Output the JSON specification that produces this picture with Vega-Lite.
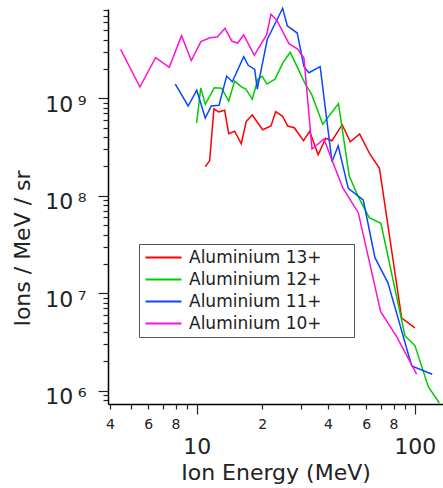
{
  "$schema": "https://vega.github.io/schema/vega-lite/v6.json",
  "autosize": "none",
  "width": 335,
  "height": 395,
  "padding": {"left": 108, "top": 9, "right": 0, "bottom": 84},
  "background": "white",
  "config": {
    "view": {"stroke": null},
    "font": "DejaVu Sans",
    "axis": {"grid": false, "domainColor": "#000", "domainWidth": 1.5, "tickColor": "#222", "tickWidth": 1.2, "labelColor": "#222", "titleColor": "#222", "labelFont": "DejaVu Sans", "titleFont": "DejaVu Sans", "titleFontWeight": "normal"}
  },
  "data": {
    "values": [
      {"ion": "Aluminium 13+", "E": 10.95, "N": 1.99e8},
      {"ion": "Aluminium 13+", "E": 11.47, "N": 2.29e8},
      {"ion": "Aluminium 13+", "E": 12.0, "N": 7.8e8},
      {"ion": "Aluminium 13+", "E": 12.62, "N": 7.24e8},
      {"ion": "Aluminium 13+", "E": 13.44, "N": 7.53e8},
      {"ion": "Aluminium 13+", "E": 14.03, "N": 4.33e8},
      {"ion": "Aluminium 13+", "E": 14.94, "N": 4.59e8},
      {"ion": "Aluminium 13+", "E": 16.02, "N": 3.42e8},
      {"ion": "Aluminium 13+", "E": 16.89, "N": 5.81e8},
      {"ion": "Aluminium 13+", "E": 17.99, "N": 6.74e8},
      {"ion": "Aluminium 13+", "E": 20.08, "N": 4.76e8},
      {"ion": "Aluminium 13+", "E": 21.92, "N": 5.2e8},
      {"ion": "Aluminium 13+", "E": 23.04, "N": 7.29e8},
      {"ion": "Aluminium 13+", "E": 24.8, "N": 6.54e8},
      {"ion": "Aluminium 13+", "E": 26.15, "N": 5.2e8},
      {"ion": "Aluminium 13+", "E": 28.03, "N": 4.99e8},
      {"ion": "Aluminium 13+", "E": 30.9, "N": 3.67e8},
      {"ion": "Aluminium 13+", "E": 32.98, "N": 4.57e8},
      {"ion": "Aluminium 13+", "E": 36.09, "N": 2.63e8},
      {"ion": "Aluminium 13+", "E": 39.06, "N": 3.89e8},
      {"ion": "Aluminium 13+", "E": 41.75, "N": 3.67e8},
      {"ion": "Aluminium 13+", "E": 46.5, "N": 5.36e8},
      {"ion": "Aluminium 13+", "E": 50.65, "N": 3.58e8},
      {"ion": "Aluminium 13+", "E": 55.93, "N": 4.3e8},
      {"ion": "Aluminium 13+", "E": 62.17, "N": 2.7e8},
      {"ion": "Aluminium 13+", "E": 68.94, "N": 1.91e8},
      {"ion": "Aluminium 13+", "E": 87.2, "N": 5.58e6},
      {"ion": "Aluminium 13+", "E": 100.3, "N": 4.41e6},

      {"ion": "Aluminium 12+", "E": 10.0, "N": 5.58e8},
      {"ion": "Aluminium 12+", "E": 10.44, "N": 1.28e9},
      {"ion": "Aluminium 12+", "E": 10.95, "N": 8.68e8},
      {"ion": "Aluminium 12+", "E": 12.04, "N": 1.28e9},
      {"ion": "Aluminium 12+", "E": 13.02, "N": 1.27e9},
      {"ion": "Aluminium 12+", "E": 14.03, "N": 9.38e8},
      {"ion": "Aluminium 12+", "E": 14.94, "N": 1.5e9},
      {"ion": "Aluminium 12+", "E": 16.09, "N": 1.3e9},
      {"ion": "Aluminium 12+", "E": 16.79, "N": 1.25e9},
      {"ion": "Aluminium 12+", "E": 17.99, "N": 9.77e8},
      {"ion": "Aluminium 12+", "E": 19.1, "N": 1.58e9},
      {"ion": "Aluminium 12+", "E": 19.99, "N": 1.68e9},
      {"ion": "Aluminium 12+", "E": 21.01, "N": 1.4e9},
      {"ion": "Aluminium 12+", "E": 22.87, "N": 1.57e9},
      {"ion": "Aluminium 12+", "E": 24.88, "N": 2.32e9},
      {"ion": "Aluminium 12+", "E": 26.88, "N": 2.96e9},
      {"ion": "Aluminium 12+", "E": 29.47, "N": 1.92e9},
      {"ion": "Aluminium 12+", "E": 31.4, "N": 1.42e9},
      {"ion": "Aluminium 12+", "E": 33.73, "N": 1.09e9},
      {"ion": "Aluminium 12+", "E": 37.88, "N": 5.43e8},
      {"ion": "Aluminium 12+", "E": 44.72, "N": 8.84e8},
      {"ion": "Aluminium 12+", "E": 50.1, "N": 1.59e8},
      {"ion": "Aluminium 12+", "E": 55.13, "N": 9.79e7},
      {"ion": "Aluminium 12+", "E": 61.9, "N": 5.96e7},
      {"ion": "Aluminium 12+", "E": 70.03, "N": 5.22e7},
      {"ion": "Aluminium 12+", "E": 90.3, "N": 3.65e6},
      {"ion": "Aluminium 12+", "E": 100.3, "N": 2.91e6},
      {"ion": "Aluminium 12+", "E": 115.5, "N": 1.1e6},
      {"ion": "Aluminium 12+", "E": 129.7, "N": 7.5e5},

      {"ion": "Aluminium 11+", "E": 7.98, "N": 1.4e9},
      {"ion": "Aluminium 11+", "E": 9.14, "N": 8.34e8},
      {"ion": "Aluminium 11+", "E": 10.01, "N": 1.21e9},
      {"ion": "Aluminium 11+", "E": 10.95, "N": 6.28e8},
      {"ion": "Aluminium 11+", "E": 11.67, "N": 8.34e8},
      {"ion": "Aluminium 11+", "E": 12.66, "N": 8.48e8},
      {"ion": "Aluminium 11+", "E": 13.73, "N": 1.69e9},
      {"ion": "Aluminium 11+", "E": 14.57, "N": 1.48e9},
      {"ion": "Aluminium 11+", "E": 16.43, "N": 2.67e9},
      {"ion": "Aluminium 11+", "E": 17.25, "N": 2.18e9},
      {"ion": "Aluminium 11+", "E": 18.46, "N": 1.98e9},
      {"ion": "Aluminium 11+", "E": 18.97, "N": 1.24e9},
      {"ion": "Aluminium 11+", "E": 21.09, "N": 4.03e9},
      {"ion": "Aluminium 11+", "E": 22.46, "N": 5.35e9},
      {"ion": "Aluminium 11+", "E": 24.8, "N": 8.38e9},
      {"ion": "Aluminium 11+", "E": 26.04, "N": 5.55e9},
      {"ion": "Aluminium 11+", "E": 28.94, "N": 4.67e9},
      {"ion": "Aluminium 11+", "E": 31.06, "N": 2.11e9},
      {"ion": "Aluminium 11+", "E": 32.74, "N": 1.83e9},
      {"ion": "Aluminium 11+", "E": 36.86, "N": 2.11e9},
      {"ion": "Aluminium 11+", "E": 41.75, "N": 2.24e8},
      {"ion": "Aluminium 11+", "E": 44.58, "N": 3.26e8},
      {"ion": "Aluminium 11+", "E": 49.6, "N": 1.19e8},
      {"ion": "Aluminium 11+", "E": 58.1, "N": 9.06e7},
      {"ion": "Aluminium 11+", "E": 65.75, "N": 2.32e7},
      {"ion": "Aluminium 11+", "E": 75.43, "N": 1.28e7},
      {"ion": "Aluminium 11+", "E": 96.9, "N": 1.8e6},
      {"ion": "Aluminium 11+", "E": 120.4, "N": 1.48e6},

      {"ion": "Aluminium 10+", "E": 4.48, "N": 3.18e9},
      {"ion": "Aluminium 10+", "E": 5.49, "N": 1.306e9},
      {"ion": "Aluminium 10+", "E": 6.48, "N": 2.61e9},
      {"ion": "Aluminium 10+", "E": 7.49, "N": 2.08e9},
      {"ion": "Aluminium 10+", "E": 8.52, "N": 4.39e9},
      {"ion": "Aluminium 10+", "E": 9.45, "N": 2.44e9},
      {"ion": "Aluminium 10+", "E": 10.46, "N": 3.82e9},
      {"ion": "Aluminium 10+", "E": 11.51, "N": 4.18e9},
      {"ion": "Aluminium 10+", "E": 12.43, "N": 4.25e9},
      {"ion": "Aluminium 10+", "E": 13.49, "N": 5.22e9},
      {"ion": "Aluminium 10+", "E": 14.52, "N": 3.84e9},
      {"ion": "Aluminium 10+", "E": 15.42, "N": 3.69e9},
      {"ion": "Aluminium 10+", "E": 16.43, "N": 4.46e9},
      {"ion": "Aluminium 10+", "E": 18.38, "N": 2.76e9},
      {"ion": "Aluminium 10+", "E": 20.95, "N": 4.49e9},
      {"ion": "Aluminium 10+", "E": 21.92, "N": 7.27e9},
      {"ion": "Aluminium 10+", "E": 23.28, "N": 6.36e9},
      {"ion": "Aluminium 10+", "E": 26.51, "N": 3.63e9},
      {"ion": "Aluminium 10+", "E": 29.06, "N": 3.2e9},
      {"ion": "Aluminium 10+", "E": 31.06, "N": 2.59e9},
      {"ion": "Aluminium 10+", "E": 33.81, "N": 3.02e8},
      {"ion": "Aluminium 10+", "E": 38.36, "N": 3.82e8},
      {"ion": "Aluminium 10+", "E": 46.74, "N": 1.21e8},
      {"ion": "Aluminium 10+", "E": 55.13, "N": 6.71e7},
      {"ion": "Aluminium 10+", "E": 69.82, "N": 6.48e6},
      {"ion": "Aluminium 10+", "E": 82.69, "N": 3.59e6},
      {"ion": "Aluminium 10+", "E": 102.1, "N": 1.48e6}
    ]
  },
  "mark": {"type": "line", "strokeWidth": 1.5, "clip": false},
  "encoding": {
    "x": {
      "field": "E", "type": "quantitative",
      "scale": {"type": "log", "domain": [3.92, 134.9], "nice": false},
      "axis": {
        "title": "Ion Energy (MeV)",
        "titleFontSize": 22,
        "titleY": 68,
        "titleBaseline": "middle",
        "values": [4, 5, 6, 7, 8, 9, 10, 20, 30, 40, 50, 60, 70, 80, 90, 100],
        "labelExpr": "datum.value == 10 ? '10' : datum.value == 100 ? '100' : (indexof([4, 6, 8], datum.value) >= 0 ? '' + datum.value : (indexof([20, 40, 60, 80], datum.value) >= 0 ? '' + (datum.value / 10) : ''))",
        "labelFlush": false,
        "labelOverlap": false,
        "labelBaseline": "top",
        "tickSize": {"condition": {"test": "datum.value == 10 || datum.value == 100", "value": 10}, "value": 5},
        "labelFontSize": {"condition": {"test": "datum.value == 10 || datum.value == 100", "value": 22}, "value": 14},
        "labelPadding": {"condition": {"test": "datum.value == 10 || datum.value == 100", "value": 22}, "value": 8}
      }
    },
    "y": {
      "field": "N", "type": "quantitative",
      "scale": {"type": "log", "domain": [7.32e5, 8.24e9], "nice": false},
      "axis": {
        "title": "Ions / MeV / sr",
        "titleFontSize": 22,
        "titleX": -86,
        "titleY": 239,
        "titleAlign": "center",
        "titleBaseline": "middle",
        "values": [8e5, 9e5, 1e6, 2e6, 3e6, 4e6, 5e6, 6e6, 7e6, 8e6, 9e6, 1e7, 2e7, 3e7, 4e7, 5e7, 6e7, 7e7, 8e7, 9e7, 1e8, 2e8, 3e8, 4e8, 5e8, 6e8, 7e8, 8e8, 9e8, 1e9, 2e9, 3e9, 4e9, 5e9, 6e9, 7e9, 8e9],
        "labelExpr": "abs(log(datum.value)/LN10 - round(log(datum.value)/LN10)) < 0.01 ? '10\u2009' + ['⁰','¹','²','³','⁴','⁵','⁶','⁷','⁸','⁹'][round(log(datum.value)/LN10)] : ''",
        "labelOverlap": false,
        "labelFlush": false,
        "labelFontSize": 22,
        "labelBaseline": "middle",
        "labelOffset": 6,
        "labelPadding": 12,
        "tickSize": {"condition": {"test": "abs(log(datum.value)/LN10 - round(log(datum.value)/LN10)) < 0.01", "value": 10}, "value": 5}
      }
    },
    "color": {
      "field": "ion", "type": "nominal",
      "scale": {"domain": ["Aluminium 13+", "Aluminium 12+", "Aluminium 11+", "Aluminium 10+"], "range": ["#ff0000", "#00cc00", "#0a46ff", "#ff10d8"]},
      "legend": {
        "title": null,
        "orient": "none",
        "legendX": 31,
        "legendY": 235,
        "strokeColor": "#555",
        "fillColor": "white",
        "padding": 5,
        "symbolType": "M-2.57,0H2.57",
        "symbolSize": 196,
        "symbolOffset": 11,
        "symbolStrokeWidth": 2,
        "labelFontSize": 17,
        "labelColor": "#222",
        "labelOffset": 17,
        "rowPadding": 4,
        "labelLimit": 400,
        "labelExpr": "datum.label + '\u00a0\u00a0\u00a0\u00a0\u00a0\u200b'"
      }
    }
  }
}
